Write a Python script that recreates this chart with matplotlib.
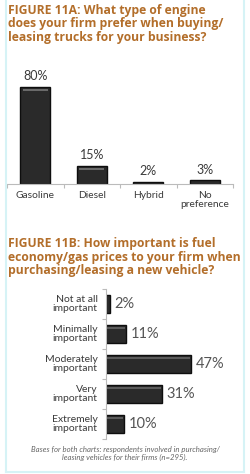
import matplotlib
matplotlib.use("Agg")
import matplotlib.pyplot as plt
from matplotlib.lines import Line2D

# ---- data ----
engine_types = ["Gasoline", "Diesel", "Hybrid", "No\npreference"]
engine_pct = [80, 15, 2, 3]

importance_levels = ["Not at all\nimportant", "Minimally\nimportant", "Moderately\nimportant",
                     "Very\nimportant", "Extremely\nimportant"]
importance_pct = [2, 11, 47, 31, 10]

title_a = "FIGURE 11A: What type of engine\ndoes your firm prefer when buying/\nleasing trucks for your business?"
title_b = "FIGURE 11B: How important is fuel\neconomy/gas prices to your firm when\npurchasing/leasing a new vehicle?"
footnote = "Bases for both charts: respondents involved in purchasing/\nleasing vehicles for their firms (n=295)."

W, H = 250, 474
fig = plt.figure(figsize=(W / 100, H / 100), dpi=100)
fig.patch.set_facecolor("white")

def fx(px):
    return px / W

def fy(py):
    return 1 - py / H

TITLE_C = "#b36e2a"
BAR_C = "#2a2a2a"
EDGE_C = "#0e0e0e"
TXT_C = "#3a3a3a"
FONT = ["Lato", "DejaVu Sans"]
TFONT = ["Open Sans", "DejaVu Sans"]

# border lines (light cyan frame)
border_c = "#d6f3f6"
fig.add_artist(Line2D([fx(5.5), fx(5.5)], [fy(0), fy(472)], color=border_c, lw=1.5))
fig.add_artist(Line2D([fx(244), fx(244)], [fy(0), fy(472)], color=border_c, lw=1.5))
fig.add_artist(Line2D([fx(5.5), fx(244)], [fy(472), fy(472)], color=border_c, lw=1.5))

# titles
fig.text(fx(8), fy(4), title_a, ha="left", va="top", color=TITLE_C, fontsize=8.7,
         fontweight="bold", family=TFONT, linespacing=1.05)
fig.text(fx(8), fy(237), title_b, ha="left", va="top", color=TITLE_C, fontsize=8.7,
         fontweight="bold", family=TFONT, linespacing=1.05)

# ---- chart A ----
axA = fig.add_axes([fx(7), fy(184), fx(226), (184 - 63) / H])
xs = list(range(len(engine_types)))
axA.bar(xs, engine_pct, width=0.53, color=BAR_C, edgecolor=EDGE_C, linewidth=1.0)
# subtle highlight near top of bars
for x, v in zip(xs, engine_pct):
    if v >= 5:
        axA.hlines(v - 2.2, x - 0.22, x + 0.22, color="#777777", lw=1.2)
axA.set_xlim(-0.5, len(engine_types) - 0.5)
axA.set_ylim(0, 100)
for x, v in zip(xs, engine_pct):
    axA.text(x, v + 4, f"{v}%", ha="center", va="bottom", fontsize=9, color=TXT_C, family=FONT)
for s in ["top", "right", "left"]:
    axA.spines[s].set_visible(False)
axA.spines["bottom"].set_color("#bbbbbb")
axA.spines["bottom"].set_linewidth(0.8)
axA.set_yticks([])
axA.set_xticks([i - 0.5 for i in range(len(engine_types) + 1)])
axA.set_xticklabels([])
axA.tick_params(axis="x", length=3, color="#bbbbbb", width=0.8)
for x, lab in zip(xs, engine_types):
    axA.text(x, -6, lab, ha="center", va="top", fontsize=7.4, color=TXT_C, family=FONT,
             linespacing=1.0)
axA.patch.set_alpha(0)

# ---- chart B ----
axB = fig.add_axes([fx(106), fy(439), fx(127), 150 / H])
ys = list(range(len(importance_levels)))
axB.barh(ys, importance_pct, height=0.6, color=BAR_C, edgecolor=EDGE_C, linewidth=1.0)
for y, v in zip(ys, importance_pct):
    if v >= 5:
        axB.hlines(y - 0.2, 0.8, v - 0.8, color="#666666", lw=1.2)
axB.set_xlim(0, 70)
axB.set_ylim(len(importance_levels) - 0.5, -0.5)
for y, v in zip(ys, importance_pct):
    axB.text(v + 2.5, y, f"{v}%", ha="left", va="center", fontsize=10.5, color="#555555", family=FONT)
for y, lab in zip(ys, importance_levels):
    axB.text(-4.5, y, lab, ha="right", va="center", fontsize=7.5, color=TXT_C, family=FONT,
             linespacing=1.0)
for s in ["top", "right", "bottom"]:
    axB.spines[s].set_visible(False)
axB.spines["left"].set_color("#bbbbbb")
axB.spines["left"].set_linewidth(0.8)
axB.set_xticks([])
axB.set_yticks([i - 0.5 for i in range(len(importance_levels) + 1)])
axB.set_yticklabels([])
axB.tick_params(axis="y", length=3, color="#bbbbbb", width=0.8)
axB.patch.set_alpha(0)

# footnote
fig.text(fx(125), fy(446), footnote, ha="center", va="top", fontsize=5.6, style="italic",
         color="#666666", family=FONT, linespacing=1.15)

fig.savefig("out.png", dpi=100, facecolor="white")
